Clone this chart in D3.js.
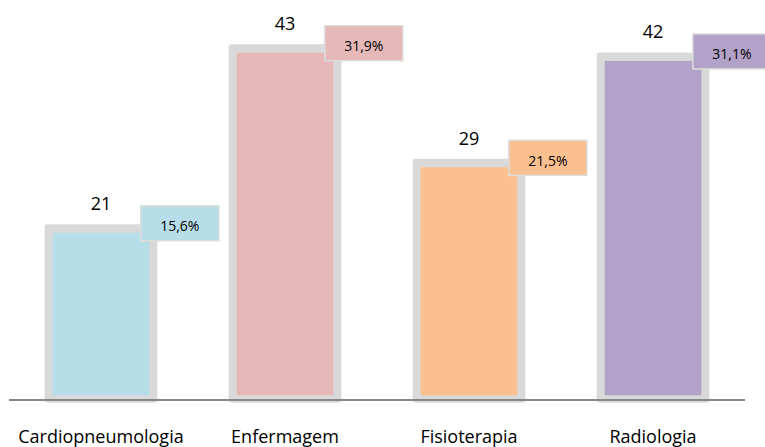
<!DOCTYPE html>
<html>
<head>
<meta charset="utf-8">
<script src="https://cdn.jsdelivr.net/npm/d3@7"></script>
<style>
  body { margin: 0; background: #fff; }
  svg { display: block; font-family: 'Open Sans', sans-serif; }
</style>
</head>
<body>
<script>
const categories = ['Cardiopneumologia', 'Enfermagem', 'Fisioterapia', 'Radiologia'];
const counts = [21, 43, 29, 42];
const percents = ['15,6%', '31,9%', '21,5%', '31,1%'];
const colors = ['#b7dde8', '#e6b9b8', '#fac090', '#b3a2c7'];

document.addEventListener('DOMContentLoaded', () => {
  const width = 765;
  const height = 447;

  const svg = d3.select('body')
    .append('svg')
    .attr('width', width)
    .attr('height', height);

  // Scales
  const xScale = d3.scaleBand()
    .domain(categories)
    .range([9, 745])
    .paddingInner(0.4745)
    .paddingOuter(0.237);

  const yScale = d3.scaleLinear()
    .domain([0, 50])
    .range([404.5, -4.5]);

  const baseY = 400;
  const bw = xScale.bandwidth();
  const rows = categories.map((c, i) => ({ c, v: counts[i], p: percents[i], col: colors[i] }));

  // Gray frames behind bars
  svg.selectAll('rect.frame')
    .data(rows)
    .enter()
    .append('rect')
    .attr('class', 'frame')
    .attr('x', d => xScale(d.c) - 8)
    .attr('y', d => yScale(d.v) - 8.5)
    .attr('width', bw + 16)
    .attr('height', d => baseY + 2.7 - (yScale(d.v) - 8.5))
    .attr('rx', 3)
    .style('fill', '#d9d9d9');

  // Baseline
  svg.append('line')
    .attr('x1', xScale.range()[0])
    .attr('x2', xScale.range()[1])
    .attr('y1', baseY)
    .attr('y2', baseY)
    .style('stroke', '#878787')
    .style('stroke-width', 2);

  // Bars
  svg.selectAll('rect.bar')
    .data(rows)
    .enter()
    .append('rect')
    .attr('class', 'bar')
    .attr('x', d => xScale(d.c))
    .attr('y', d => yScale(d.v))
    .attr('width', bw)
    .attr('height', d => baseY - 4.7 - yScale(d.v))
    .style('fill', d => d.col);

  // Count labels
  svg.selectAll('text.count')
    .data(rows)
    .enter()
    .append('text')
    .attr('class', 'count')
    .attr('x', d => xScale(d.c) + bw / 2)
    .attr('y', d => yScale(d.v) - 22.5)
    .attr('text-anchor', 'middle')
    .style('font-size', '18px')
    .style('fill', '#000')
    .text(d => d.v);

  // Percent boxes
  const boxes = svg.selectAll('g.pct')
    .data(rows)
    .enter()
    .append('g')
    .attr('class', 'pct');

  boxes.append('rect')
    .attr('x', d => xScale(d.c) + bw - 8.5)
    .attr('y', d => yScale(d.v) - 27)
    .attr('width', 78)
    .attr('height', 35)
    .style('fill', d => d.col)
    .style('stroke', '#dcdcdc')
    .style('stroke-width', 1.5);

  boxes.append('text')
    .attr('x', d => xScale(d.c) + bw - 8.5 + 39)
    .attr('y', d => yScale(d.v) - 27 + 25.5)
    .attr('text-anchor', 'middle')
    .style('font-size', '14px')
    .style('fill', '#000')
    .text(d => d.p);

  // Category labels
  svg.selectAll('text.cat')
    .data(rows)
    .enter()
    .append('text')
    .attr('class', 'cat')
    .attr('x', d => xScale(d.c) + bw / 2)
    .attr('y', 443)
    .attr('text-anchor', 'middle')
    .style('font-size', '18px')
    .style('fill', '#000')
    .text(d => d.c);
});
</script>
</body>
</html>
